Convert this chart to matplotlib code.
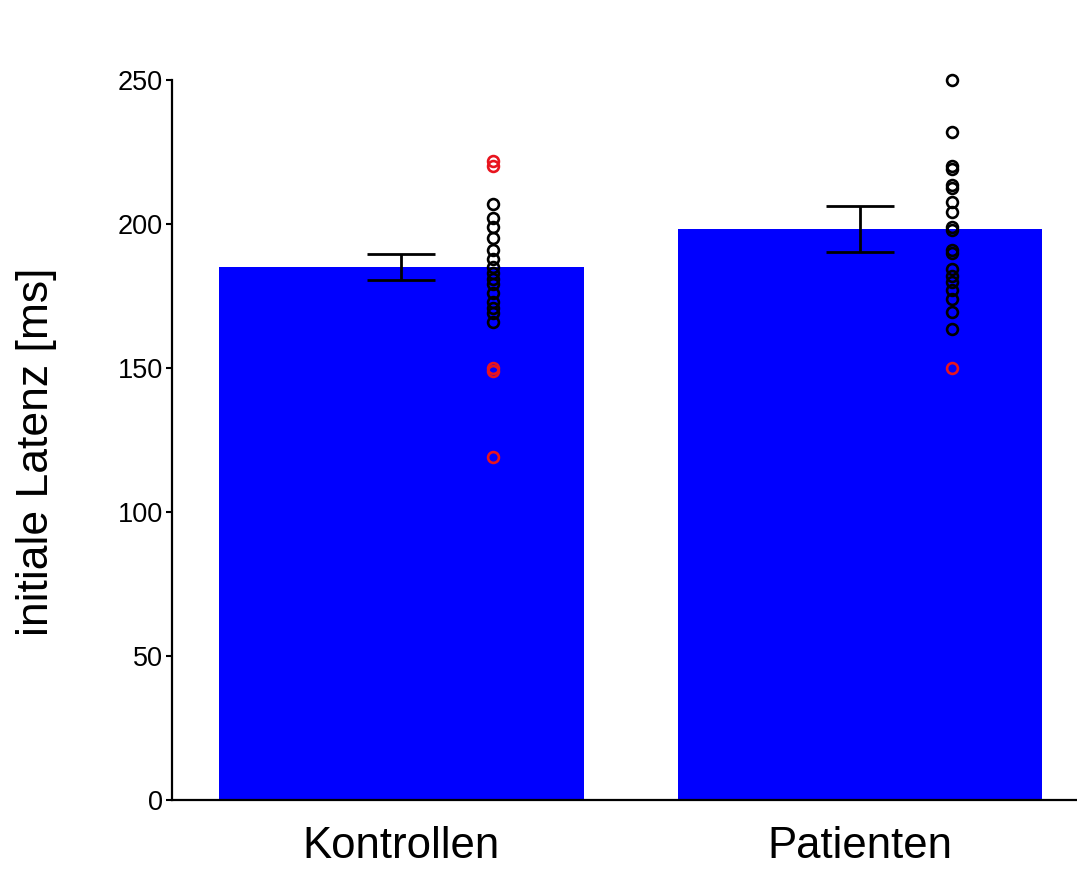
import numpy as np
import matplotlib
matplotlib.use("Agg")
import matplotlib.pyplot as plt

plt.rcParams['font.family'] = ['Liberation Sans', 'DejaVu Sans']

# Daten
gruppen = ["Kontrollen", "Patienten"]
mittelwerte = [185, 198.3]
sem = [4.5, 8.0]

kontrollen_schwarz = [207, 202, 199, 195, 191, 188, 185, 183, 181, 179, 176, 173, 171, 169, 166]
kontrollen_rot = [222, 220, 150, 149, 119]
patienten_schwarz = [250, 232, 220, 219, 213.5, 212.5, 207.5, 204, 199, 198, 191, 190,
                     184.5, 182, 180, 177, 174, 169.5, 163.5]
patienten_rot = [150]

x = np.arange(1, len(gruppen) + 1)

fig = plt.figure(figsize=(10.77, 8.88), dpi=100)
ax = fig.add_axes([0.1597, 0.0991, 0.8519, 0.8108])

ax.bar(x, mittelwerte, width=0.795, color='#0000FF', zorder=1)
ax.errorbar(x, mittelwerte, yerr=sem, fmt='none', ecolor='black',
            elinewidth=2, capsize=24.5, capthick=2, zorder=3)

# Einzelwerte neben den Balken
versatz = 0.2
punkt_stil = dict(linestyle='none', marker='o', markersize=7.8,
                  markerfacecolor='none', markeredgewidth=1.9, zorder=4,
                  clip_on=False)
ax.plot(np.full(len(kontrollen_schwarz), x[0] + versatz), kontrollen_schwarz,
        markeredgecolor='black', **punkt_stil)
ax.plot(np.full(len(kontrollen_rot), x[0] + versatz), kontrollen_rot,
        markeredgecolor='#E8141E', **punkt_stil)
ax.plot(np.full(len(patienten_schwarz), x[1] + versatz), patienten_schwarz,
        markeredgecolor='black', **punkt_stil)
ax.plot(np.full(len(patienten_rot), x[1] + versatz), patienten_rot,
        markeredgecolor='#E8141E', **punkt_stil)

ax.set_xlim(0.5, 2.5)
ax.set_ylim(0, 250)
ax.set_yticks([0, 50, 100, 150, 200, 250])
ax.set_xticks(x)
ax.set_xticklabels(gruppen, fontsize=31.5)
ax.tick_params(axis='x', length=0, pad=19)
ax.tick_params(axis='y', direction='out', length=4.5, width=1.5, pad=2, labelsize=19.5)

for s in ['top', 'right']:
    ax.spines[s].set_visible(False)
for s in ['left', 'bottom']:
    ax.spines[s].set_linewidth(1.6)

ax.set_ylabel("initiale Latenz [ms]", fontsize=32)
ax.yaxis.set_label_coords(-0.125, 0.483)

fig.savefig("out.png", dpi=100)
